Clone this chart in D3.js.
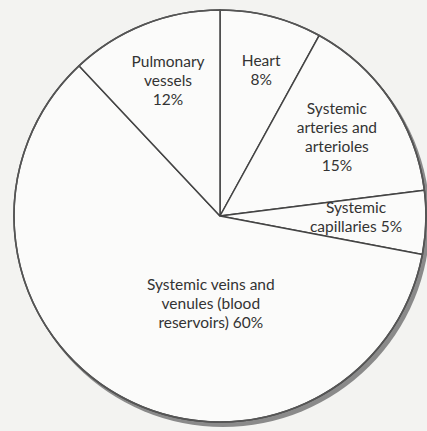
<!DOCTYPE html>
<html>
<head>
<meta charset="utf-8">
<script src="https://cdn.jsdelivr.net/npm/d3@7"></script>
<style>
  html, body { margin: 0; padding: 0; background: #f3f3f1; }
  svg { display: block; }
  text { font-family: Lato, "Open Sans", sans-serif; fill: #333; }
</style>
</head>
<body>
<svg id="chart" width="427" height="431"></svg>
<script>
// Data (clockwise from 12 o'clock)
const categories = ["Heart", "Systemic arteries and arterioles", "Systemic capillaries",
                    "Systemic veins and venules (blood reservoirs)", "Pulmonary vessels"];
const values = [8, 15, 5, 60, 12];
const labelLines = [
  ["Heart", "8%"],
  ["Systemic", "arteries and", "arterioles", "15%"],
  ["Systemic", "capillaries 5%"],
  ["Systemic veins and", "venules (blood", "reservoirs) 60%"],
  ["Pulmonary", "vessels", "12%"]
];

// Style / layout config
const cx = 220, cy = 216, R = 206;
const labelRadius = [152, 141, 136, 88, 145];
const labelAngleNudgeDeg = [1.3, 0.2, -1.4, -22.8, 0.6];
const lineHeight = 19;

const svg = d3.select("#chart");
const g = svg.append("g").attr("transform", `translate(${cx},${cy})`);

// shadow
g.append("circle").attr("cx", 3).attr("cy", 4).attr("r", R + 1)
  .attr("fill", "#8a8a8a");

const pie = d3.pie().sort(null).value(d => d)(values);
const arc = d3.arc().innerRadius(0).outerRadius(R);

g.selectAll("path.slice").data(pie).join("path")
  .attr("class", "slice")
  .attr("d", arc)
  .attr("fill", "#fbfbfa")
  .attr("stroke", "#444")
  .attr("stroke-width", 1.5)
  .attr("stroke-linejoin", "round");

g.append("circle").attr("r", R).attr("fill", "none")
  .attr("stroke", "#555").attr("stroke-width", 1.6);

pie.forEach((p, i) => {
  const a = (p.startAngle + p.endAngle) / 2 + labelAngleNudgeDeg[i] * Math.PI / 180;
  const r = labelRadius[i];
  const x = r * Math.sin(a), y = -r * Math.cos(a);
  const lines = labelLines[i];
  const t = g.append("text")
    .attr("text-anchor", "middle")
    .attr("font-size", 15.5)
    .attr("transform", `translate(${x},${y})`);
  lines.forEach((ln, j) => {
    t.append("tspan").attr("x", 0)
      .attr("y", (j - (lines.length - 1) / 2) * lineHeight)
      .attr("dy", "0.35em")
      .text(ln);
  });
});
</script>
</body>
</html>
